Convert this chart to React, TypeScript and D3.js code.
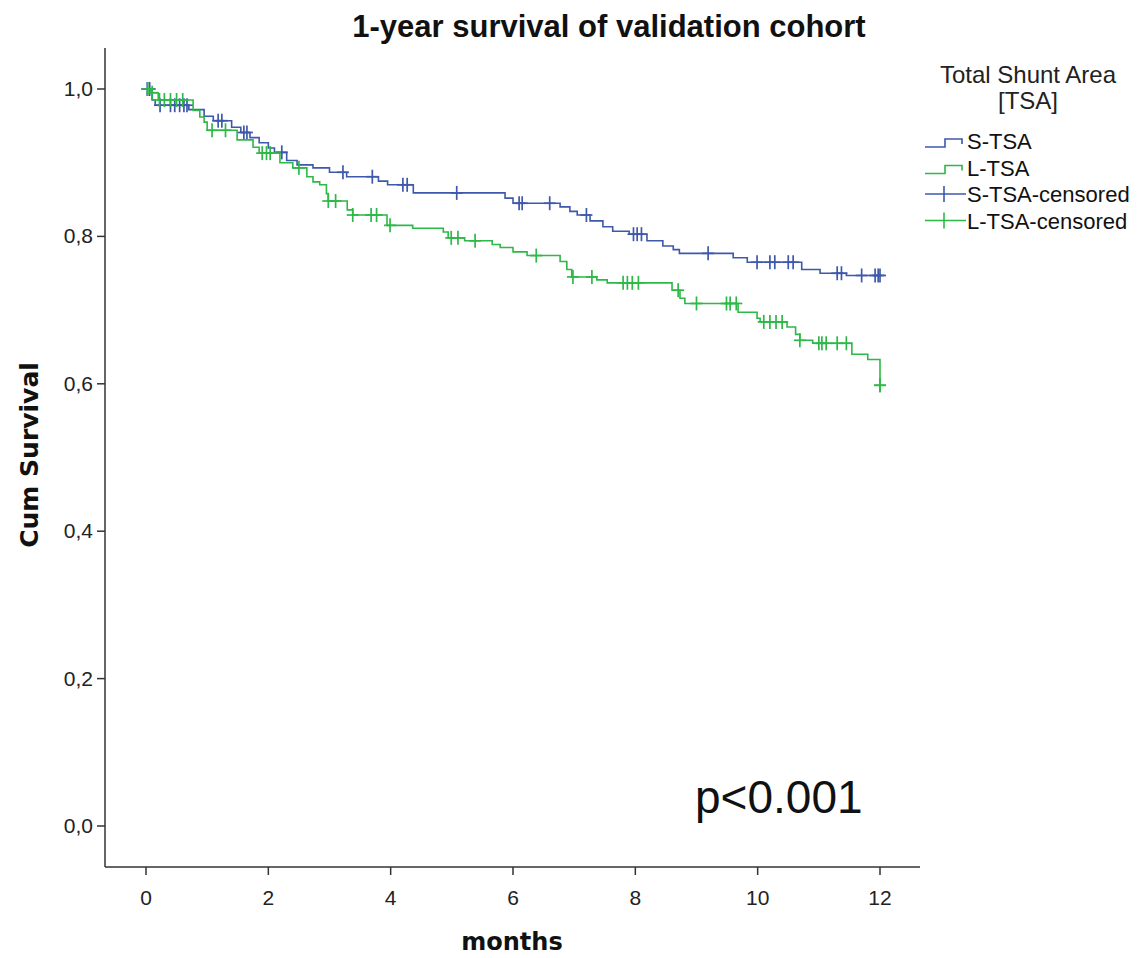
import React from 'react';
import * as d3 from 'd3';

// S-TSA (blue) step data: event times (months) and survival after each event
const sTsaTimes = [0, 0.1, 0.15, 0.7, 0.95, 1.1, 1.4, 1.55, 1.7, 1.85, 2.0, 2.1, 2.3, 2.47, 2.73, 3.0, 3.28, 3.8, 3.95, 4.37, 5.87, 6.0, 6.77, 6.93, 7.05, 7.26, 7.47, 7.63, 7.9, 8.19, 8.45, 8.62, 8.72, 9.6, 9.83, 10.72, 11.02, 11.45];
const sTsaSurv = [1.0, 0.985, 0.978, 0.972, 0.963, 0.957, 0.948, 0.941, 0.934, 0.927, 0.92, 0.914, 0.903, 0.897, 0.893, 0.887, 0.881, 0.875, 0.87, 0.859, 0.852, 0.845, 0.84, 0.834, 0.829, 0.821, 0.813, 0.807, 0.803, 0.794, 0.787, 0.782, 0.777, 0.771, 0.765, 0.755, 0.75, 0.747];
const sTsaCensored = [0.02, 0.06, 0.23, 0.4, 0.47, 0.55, 0.62, 0.67, 1.18, 1.24, 1.6, 1.65, 2.22, 3.22, 3.7, 4.2, 4.27, 5.08, 6.1, 6.15, 6.6, 7.2, 7.97, 8.03, 8.1, 9.19, 9.99, 10.2, 10.28, 10.5, 10.58, 11.3, 11.37, 11.7, 11.92, 11.97, 12.0];

// L-TSA (green)
const lTsaTimes = [0, 0.07, 0.2, 0.77, 0.88, 0.95, 1.0, 1.49, 1.75, 1.85, 2.19, 2.4, 2.63, 2.73, 2.84, 2.95, 2.98, 3.29, 3.38, 3.94, 4.36, 4.86, 4.94, 5.21, 5.66, 5.79, 6.0, 6.23, 6.77, 6.88, 6.96, 7.37, 7.54, 8.6, 8.73, 8.81, 9.68, 9.99, 10.04, 10.48, 10.62, 10.69, 10.9, 11.54, 11.8, 12.0];
const lTsaSurv = [1.0, 0.995, 0.985, 0.971, 0.962, 0.955, 0.944, 0.931, 0.921, 0.913, 0.9, 0.893, 0.881, 0.874, 0.87, 0.858, 0.848, 0.836, 0.829, 0.815, 0.811, 0.806, 0.798, 0.794, 0.789, 0.785, 0.779, 0.774, 0.766, 0.755, 0.745, 0.741, 0.737, 0.727, 0.716, 0.709, 0.697, 0.689, 0.684, 0.677, 0.667, 0.659, 0.655, 0.64, 0.633, 0.598];
const lTsaCensored = [0.03, 0.1, 0.22, 0.3, 0.4, 0.5, 0.6, 1.08, 1.3, 1.9, 1.97, 2.03, 2.5, 2.98, 3.1, 3.38, 3.68, 3.77, 3.99, 4.99, 5.1, 5.38, 6.38, 6.98, 7.29, 7.8, 7.87, 7.95, 8.05, 8.7, 9.0, 9.49, 9.55, 9.65, 10.1, 10.2, 10.3, 10.4, 10.69, 11.0, 11.05, 11.12, 11.3, 11.45, 12.0, 12.0];

const xTicks = [0, 2, 4, 6, 8, 10, 12];
const yTicks = [0, 0.2, 0.4, 0.6, 0.8, 1.0];
const yTickLabels = ['0,0', '0,2', '0,4', '0,6', '0,8', '1,0'];
const legendLabels = ['S-TSA', 'L-TSA', 'S-TSA-censored', 'L-TSA-censored'];

const BLUE = '#3e58ac';
const GREEN = '#2eb848';
const AXIS = '#333';

const W = 1147;
const H = 958;

// survival value of the step curve at time t
const survAt = (times: number[], surv: number[], t: number) => {
  const i = d3.bisectRight(times, t) - 1;
  return surv[Math.max(0, i)];
};

const App = () => {
  const x = d3.scaleLinear().domain([0, 12]).range([146, 880]);
  const y = d3.scaleLinear().domain([0, 1]).range([826, 89]);

  const line = d3
    .line<[number, number]>()
    .x(d => x(d[0]))
    .y(d => y(d[1]))
    .curve(d3.curveStepAfter);

  const series = [
    { times: sTsaTimes, surv: sTsaSurv, cens: sTsaCensored, color: BLUE },
    { times: lTsaTimes, surv: lTsaSurv, cens: lTsaCensored, color: GREEN },
  ];

  const font = '"Liberation Sans", Arial, sans-serif';

  return (
    <svg width={W} height={H} style={{ position: 'absolute', left: 0, top: 0, background: '#fff' }}>
      <rect width={W} height={H} fill="#fff" />
      {/* title */}
      <text x={609} y={37} textAnchor="middle" fontFamily={font} fontWeight="bold" fontSize={31} fill="#111">
        1-year survival of validation cohort
      </text>

      {/* axes */}
      <line x1={105} y1={48} x2={105} y2={867} stroke={AXIS} strokeWidth={1.5} />
      <line x1={105} y1={867} x2={920} y2={867} stroke={AXIS} strokeWidth={1.5} />
      {yTicks.map((t, i) => (
        <g key={'y' + t}>
          <line x1={97} x2={105} y1={y(t)} y2={y(t)} stroke={AXIS} strokeWidth={1.5} />
          <text x={93} y={y(t) + 7} textAnchor="end" fontFamily={font} fontSize={21} fill="#222">
            {yTickLabels[i]}
          </text>
        </g>
      ))}
      {xTicks.map(t => (
        <g key={'x' + t}>
          <line x1={x(t)} x2={x(t)} y1={867} y2={875} stroke={AXIS} strokeWidth={1.5} />
          <text x={x(t)} y={905} textAnchor="middle" fontFamily={font} fontSize={21} fill="#222">
            {t}
          </text>
        </g>
      ))}
      <text
        transform="translate(38,455) rotate(-90)"
        textAnchor="middle"
        fontFamily='"DejaVu Sans", sans-serif'
        fontWeight="bold"
        fontSize={25}
        fill="#111"
      >
        Cum Survival
      </text>
      <text x={512} y={950} textAnchor="middle" fontFamily='"DejaVu Sans", sans-serif' fontWeight="bold" fontSize={24} fill="#111">
        months
      </text>

      {/* curves */}
      {series.map((s, k) => {
        const pts: [number, number][] = s.times.map((t, i) => [t, s.surv[i]]);
        const last = pts[pts.length - 1];
        if (last[0] < 12) pts.push([12, last[1]]);
        return (
          <g key={'s' + k}>
            <path d={line(pts) || ''} fill="none" stroke={s.color} strokeWidth={1.6} />
            {s.cens.map((t, j) => {
              const cx = x(t);
              const cy = y(survAt(s.times, s.surv, t));
              return (
                <g key={j} stroke={s.color} strokeWidth={1.7}>
                  <line x1={cx} x2={cx} y1={cy - 7} y2={cy + 7} />
                  <line x1={cx - 6} x2={cx + 6} y1={cy} y2={cy} />
                </g>
              );
            })}
          </g>
        );
      })}

      {/* p value */}
      <text x={695} y={813} fontFamily={font} fontSize={46} fill="#111">
        p&lt;0.001
      </text>

      {/* legend */}
      <text x={1028} y={83} textAnchor="middle" fontFamily={font} fontSize={24} fill="#222">
        Total Shunt Area
      </text>
      <text x={1028} y={109} textAnchor="middle" fontFamily={font} fontSize={24} fill="#222">
        [TSA]
      </text>
      {legendLabels.map((lab, i) => {
        const ly = 141 + i * 26.5;
        const color = i % 2 === 0 ? BLUE : GREEN;
        return (
          <g key={lab}>
            {i < 2 ? (
              <path
                d={`M925,${ly + 6}H945V${ly - 2}H962V${ly + 3}`}
                fill="none"
                stroke={color}
                strokeWidth={1.6}
              />
            ) : (
              <g stroke={color} strokeWidth={1.6}>
                <line x1={925} x2={966} y1={ly} y2={ly} />
                <line x1={944} x2={944} y1={ly - 8} y2={ly + 8} />
              </g>
            )}
            <text x={967} y={ly + 8} fontFamily={font} fontSize={22} fill="#111">
              {lab}
            </text>
          </g>
        );
      })}
    </svg>
  );
};

export default App;
